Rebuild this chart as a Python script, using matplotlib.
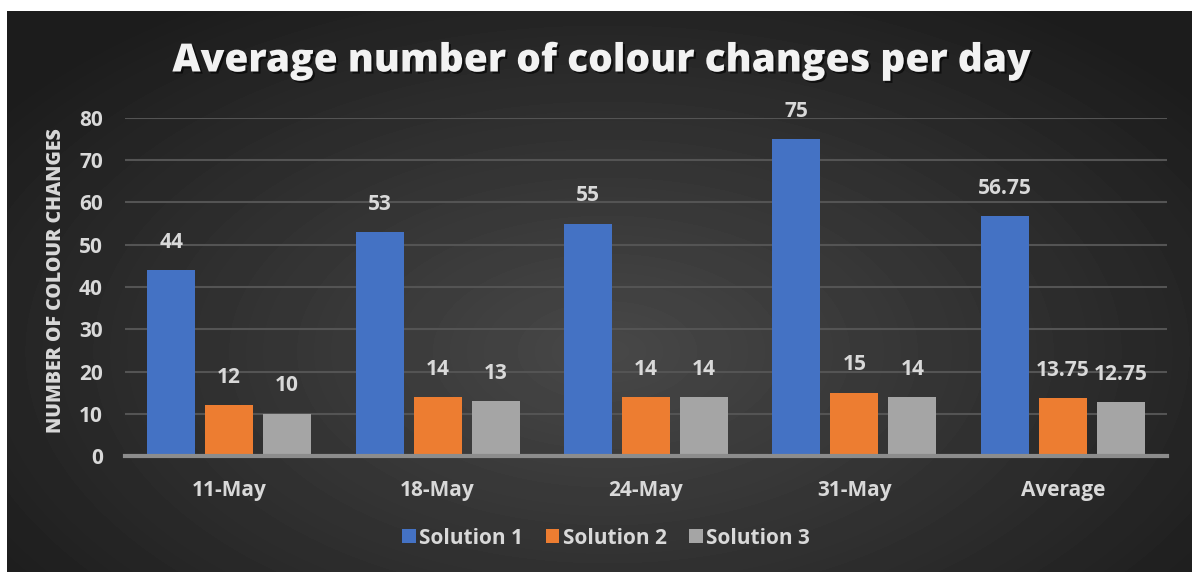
import numpy as np
import matplotlib
matplotlib.use('Agg')
import matplotlib.pyplot as plt
import matplotlib.patheffects as pe

# data
categories = ['11-May', '18-May', '24-May', '31-May', 'Average']
series_names = ['Solution 1', 'Solution 2', 'Solution 3']
solution1 = [44, 53, 55, 75, 56.75]
solution2 = [12, 14, 14, 15, 13.75]
solution3 = [10, 13, 14, 14, 12.75]
yticks = [0, 10, 20, 30, 40, 50, 60, 70, 80]

colors = ['#4472C4', '#ED7D31', '#A5A5A5']
txt = '#d9d9d9'
plt.rcParams['font.family'] = ['Open Sans', 'DejaVu Sans']

W, H = 1192, 572
fig = plt.figure(figsize=(W / 100, H / 100), dpi=100, facecolor='white')

# dark radial background
bg = fig.add_axes([7 / W, 0, (W - 7) / W, (H - 11) / H])
bg.set_axis_off()
yy, xx = np.mgrid[0:H - 11, 0:W - 7]
r = np.sqrt(((xx - 600) / 750.0) ** 2 + ((yy - 340) / 420.0) ** 2)
shade = np.clip(0x48 - (0x48 - 0x1c) * r, 0x1c, 0x48) / 255.0
bg.imshow(shade, cmap='gray', vmin=0, vmax=1, aspect='auto', interpolation='bilinear')

ax = fig.add_axes([125 / W, 1 - 456 / H, (1167 - 125) / W, (456 - 118) / H])
ax.patch.set_alpha(0)

x = np.arange(len(categories))
bw = 0.23
step = 0.278
for i, (vals, name) in enumerate(zip([solution1, solution2, solution3], series_names)):
    bars = ax.bar(x + (i - 1) * step, vals, bw, color=colors[i], label=name, zorder=3)
    for b, v in zip(bars, vals):
        ax.annotate('{:g}'.format(v), (b.get_x() + b.get_width() / 2, v),
                    xytext=(0, 20), textcoords='offset points', ha='center', va='center',
                    color=txt, fontsize=15, fontweight='bold')

ax.set_xlim(-0.5, len(categories) - 0.5)
ax.set_ylim(0, 80)
ax.set_yticks(yticks)
ax.set_xticks(x)
ax.set_xticklabels(categories)
ax.grid(axis='y', color='#545454', linewidth=1.5, zorder=0)
ax.tick_params(axis='both', length=0, colors=txt, labelsize=15)
ax.tick_params(axis='x', pad=17)
ax.tick_params(axis='y', pad=16)
for lab in ax.get_xticklabels() + ax.get_yticklabels():
    lab.set_fontweight('bold')
for s in ['top', 'right', 'left']:
    ax.spines[s].set_visible(False)
ax.spines['bottom'].set_color('#8c8c8c')
ax.spines['bottom'].set_linewidth(3)
ax.spines['bottom'].set_zorder(4)

ax.set_ylabel('NUMBER OF COLOUR CHANGES', color=txt, fontsize=14, fontweight='extra bold')
ax.yaxis.set_label_coords(-0.057, 0.52)

fig.text(601 / W, 1 - 61 / H, 'Average number of colour changes per day', ha='center', va='center',
         color='#f2f2f2', fontsize=28, fontweight='extra bold',
         path_effects=[pe.withSimplePatchShadow(offset=(1.5, -1.5), shadow_rgbFace='black', alpha=0.6)])

leg = fig.legend(loc='center', bbox_to_anchor=(606 / W, 1 - 538 / H), ncol=3, frameon=False,
                 handlelength=0.65, handleheight=0.65, handletextpad=0.15, columnspacing=1.1,
                 fontsize=15)
for t in leg.get_texts():
    t.set_color(txt)
    t.set_fontweight('bold')

fig.savefig('out.png', dpi=100, facecolor='white')
